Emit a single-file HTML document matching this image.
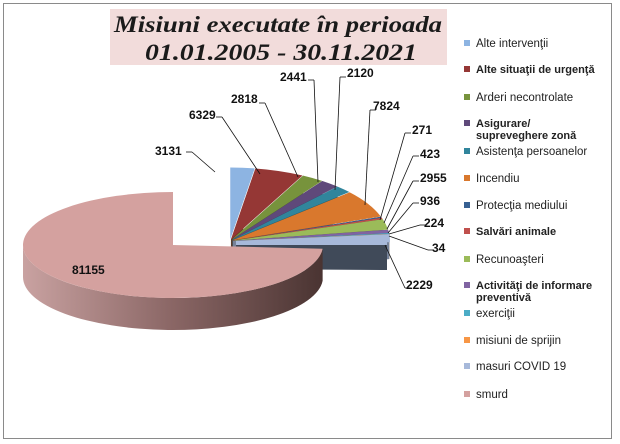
<!DOCTYPE html>
<html><head><meta charset="utf-8"><style>
html,body{margin:0;padding:0;background:#fff}
svg{display:block}
</style></head><body>
<svg id="s" width="620" height="444" viewBox="0 0 620 444" xmlns="http://www.w3.org/2000/svg">
<defs>
<linearGradient id="gw" x1="0" y1="0" x2="1" y2="0">
<stop offset="0" stop-color="#c9a2a1"/><stop offset="0.5" stop-color="#8a6665"/><stop offset="1" stop-color="#4a3432"/>
</linearGradient>
</defs>
<rect x="3.5" y="3.5" width="608" height="435" fill="#fff" stroke="#8a8a8a" stroke-width="1"/>
<rect x="110" y="9" width="337" height="56" fill="#f2dcdb"/>
<text x="278" y="32" text-anchor="middle" font-family="Liberation Serif, serif" font-style="italic" font-weight="bold" font-size="23" textLength="328" lengthAdjust="spacingAndGlyphs" fill="#1a1a1a">Misiuni executate în perioada</text>
<text x="281" y="60" text-anchor="middle" font-family="Liberation Serif, serif" font-style="italic" font-weight="bold" font-size="23" textLength="272" lengthAdjust="spacingAndGlyphs" fill="#1a1a1a">01.01.2005 - 30.11.2021</text>
<g id="pie"></g>
<g id="lab" font-family="Liberation Sans, sans-serif" font-weight="bold" font-size="12" fill="#111"></g>
<g id="leg" font-family="Liberation Sans, DejaVu Sans, sans-serif" font-size="11.5" fill="#222"></g>
</svg>
<script>
var NS="http://www.w3.org/2000/svg";
function el(p,t,a,txt){var e=document.createElementNS(NS,t);for(var k in a)e.setAttribute(k,a[k]);if(txt!=null)e.textContent=txt;document.getElementById(p).appendChild(e);return e;}
var data=[
["Alte intervenţii",3131,"#8db4e2",0],["Alte situaţii de urgenţă",6329,"#953735",1],["Arderi necontrolate",2818,"#77933c",0],
["Asigurare/|supreveghere zonă",2441,"#5f497a",1],["Asistenţa persoanelor",2120,"#31859c",0],["Incendiu",7824,"#d9782d",0],
["Protecţia mediului",271,"#376092",0],["Salvări animale",423,"#c0504d",1],["Recunoaşteri",2955,"#9bbb59",0],
["Activităţi de informare|preventivă",936,"#8064a2",1],["exerciţii",224,"#4bacc6",0],["misiuni de sprijin",34,"#f79646",0],
["masuri COVID 19",2229,"#a7b9da",0],["smurd",81155,"#d4a19f",0]];
function shade(c,f){var n=parseInt(c.slice(1),16),r=(n>>16)*f,g=(n>>8&255)*f,b=(n&255)*f;return "rgb("+[r,g,b].map(Math.round).join(",")+")";}
var rad=Math.PI/180;
var cx=230,cy=241,rx=157,ry=72,D=25;
var tot=0;for(var i=0;i<13;i++)tot+=data[i][1];
var a=-90,span=91;
var pts=function(x,y,r1,r2,t){return [x+r1*Math.cos(t*rad),y+r2*Math.sin(t*rad)];};
for(var i=0;i<13;i++){
  var s=a,e=a+data[i][1]/tot*span;a=e;
  var m=(s+e)/2,off=3;
  var ox=cx+off*Math.cos(m*rad),oy=cy+off*0.5*Math.sin(m*rad);
  var p1=pts(ox,oy,rx,ry,s),p2=pts(ox,oy,rx,ry,e);
  el("pie","path",{d:"M"+ox+","+oy+" L"+p1[0]+","+p1[1]+" L"+p1[0]+","+(p1[1]+D)+" L"+ox+","+(oy+D)+"Z",fill:shade(data[i][2],0.7)});
  el("pie","path",{d:"M"+ox+","+oy+" L"+p1[0]+","+p1[1]+" A"+rx+","+ry+" 0 0 1 "+p2[0]+","+p2[1]+"Z",fill:data[i][2]});
}
// slate wall
el("pie","polygon",{points:"236,244 387,244 387,270 236,269",fill:"#404a59"});
el("pie","polygon",{points:"236,241 387,240 387,245 236,245",fill:"#a7b9da"});
// smurd
var sx=173,sy=245,srx=150,sry=53,SD=32,s0=4;
var A=pts(sx,sy,srx,sry,s0),B=pts(sx,sy,srx,sry,180);
el("pie","path",{d:"M"+A[0]+","+A[1]+" A"+srx+","+sry+" 0 0 1 "+B[0]+","+B[1]+" L"+B[0]+","+(B[1]+SD)+" A"+srx+","+sry+" 0 0 0 "+A[0]+","+(A[1]+SD)+"Z",fill:"url(#gw)"});
var T=pts(sx,sy,srx,sry,270);
el("pie","path",{d:"M"+sx+","+sy+" L"+A[0]+","+A[1]+" A"+srx+","+sry+" 0 1 1 "+T[0]+","+T[1]+"Z",fill:"#d4a19f"});
var L=[["3131",155,155,[192,152,215,172]],["6329",189,119,[222,117,260,174]],["2818",231,103,[265,103,298,177]],
["2441",280,81,[314,80,318,182]],["2120",347,77,[340,77,335,190]],["7824",373,110,[370,110,365,205]],
["271",412,134,[405,133,380,220]],["423",420,158,[413,156,384,223]],["2955",420,182,[413,181,387,229]],
["936",420,205,[413,203,388,233]],["224",424,227,[420,225,389,234]],["34",432,252,[428,250,389,236]],
["2229",406,289,[405,288,385,245]]];
L.forEach(function(l){var c=l[3];el("lab","polyline",{points:c[0]+","+c[1]+" "+(c[0]+(c[0]<c[2]?-6:6))+","+c[1],stroke:"#111",fill:"none","stroke-width":"0.8"});
 el("lab","line",{x1:c[0],y1:c[1],x2:c[2],y2:c[3],stroke:"#111","stroke-width":"0.8"});
 el("lab","text",{x:l[1],y:l[2]},l[0]);});
el("lab","text",{x:72,y:274},"81155");
var ly=[47,73,101,127,155,182,209,235,263,289,317,344,370,398];
for(var i=0;i<14;i++){var y=ly[i];el("leg","rect",{x:464,y:y-7,width:6,height:6,fill:data[i][2]});
 var parts=data[i][0].split("|");var b=data[i][3];parts.forEach(function(p,j){var t=el("leg","text",{x:476,y:y+j*12},p);if(b){t.setAttribute("font-weight","bold");t.setAttribute("font-size","11");}});}
</script>
</body></html>
